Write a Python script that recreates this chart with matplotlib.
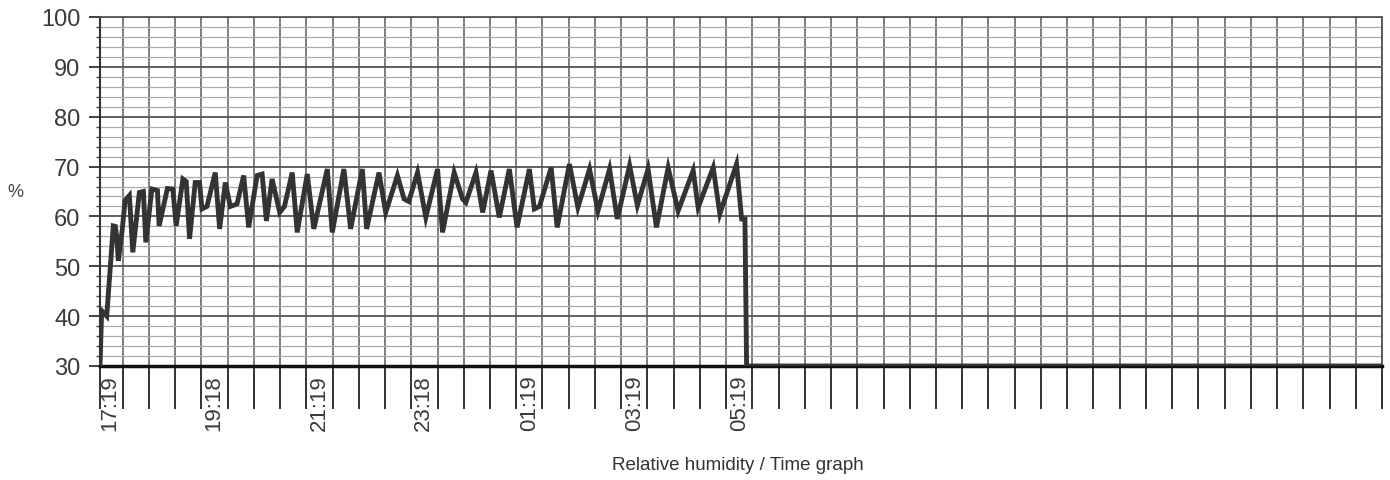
import numpy as np
import matplotlib
matplotlib.use("Agg")
import matplotlib.pyplot as plt
from matplotlib.ticker import FixedLocator, MultipleLocator

plt.rcParams['font.family'] = ['Liberation Sans', 'DejaVu Sans']

# minutes after 17:19
minutes = [-11.0, -9.1, -3.3, 4.2, 6.5, 8.1, 10.0, 14.2, 17.7, 22.6, 26.5, 34.0, 38.6, 41.4,
           48.3, 54.7, 56.6, 66.1, 72.3, 76.1, 83.8, 87.6, 91.4, 97.9, 102.8, 105.6,
           111.3, 120.8, 125.8, 132.3, 138.0, 145.7, 153.3, 159.0, 168.7, 174.4, 179.3,
           185.8, 194.5, 199.9, 208.8, 214.5, 226.0, 233.5, 248.9, 254.6, 267.9, 275.6,
           289.0, 293.9, 308.0, 315.7, 329.1, 336.7, 342.1, 352.1, 361.6, 375.0, 380.7,
           394.0, 403.6, 407.4, 418.9, 426.6, 436.1, 445.6, 457.1, 465.9, 480.0, 485.7,
           491.5, 504.9, 511.8, 525.8, 535.5, 548.8, 558.4, 571.7, 580.5, 594.6, 603.5,
           615.7, 625.3, 638.7, 650.1, 667.3, 673.0, 690.2, 697.8, 716.9, 722.7, 726.5,
           728.4, 1455.0]
humidity = [30, 41.1, 40.0, 58.1, 58.0, 56.0, 51.1, 57.0, 63.2, 64.2, 52.8, 64.8, 65.0, 54.8,
            65.5, 65.2, 58.1, 65.6, 65.5, 58.1, 67.5, 67.0, 55.5, 66.8, 66.8, 61.5,
            62.0, 68.8, 57.5, 66.8, 62.0, 62.5, 68.2, 57.8, 68.2, 68.5, 59.1,
            67.5, 60.8, 62.0, 68.8, 56.8, 68.5, 57.5, 69.5, 56.8, 69.5, 57.5,
            69.5, 57.5, 68.8, 60.8, 68.2, 63.5, 63.0, 68.8, 59.8, 69.5, 56.8,
            68.8, 63.5, 62.8, 68.8, 60.8, 69.2, 59.8, 69.5, 57.8, 69.5, 61.5,
            62.0, 69.8, 57.8, 70.5, 61.8, 69.5, 61.1, 69.5, 59.5, 70.2, 62.2,
            69.5, 57.8, 69.8, 61.1, 69.2, 61.8, 69.8, 60.5, 70.5, 59.5, 59.5,
            30, 30]

label_minutes = [0, 119, 240, 359, 480, 600, 720]
label_texts = ['17:19', '19:18', '21:19', '23:18', '01:19', '03:19', '05:19']

grid_step = 30  # minutes between vertical grid lines
x_left, x_right = -11, 1455

fig = plt.figure(figsize=(13.9, 4.81), dpi=100)
ax = fig.add_axes([100/1390, 1-367/481, 1282/1390, 349/481])

ax.plot(minutes, humidity, color='#333333', lw=3.5, solid_joinstyle='miter', zorder=5)

ax.set_xlim(x_left, x_right)
ax.set_ylim(30, 100)

# vertical grid lines + long ticks under the axis
vlines = [x_left] + list(np.arange(15, x_right + 1, grid_step))
ax.xaxis.set_minor_locator(FixedLocator(vlines))
ax.xaxis.set_major_locator(FixedLocator(label_minutes))
ax.set_xticklabels(label_texts, rotation=90, fontsize=16, color='#3a3a3a')
ax.tick_params(axis='x', which='major', length=0, pad=6)
ax.tick_params(axis='x', which='minor', length=31, width=1.3, color='#222222')
ax.grid(which='minor', axis='x', color='#5a5a5a', lw=1.1)

ax.yaxis.set_major_locator(MultipleLocator(10))
ax.yaxis.set_minor_locator(MultipleLocator(2))
ax.tick_params(axis='y', which='major', length=8, width=1.3, labelsize=17,
               labelcolor='#3a3a3a', color='#333333', pad=6)
ax.tick_params(axis='y', which='minor', length=3, width=1.0, color='#444444')
ax.grid(which='major', axis='y', color='#555555', lw=1.3)
ax.grid(which='minor', axis='y', color='#ababab', lw=0.9)
ax.set_axisbelow(True)

for side in ['top', 'right']:
    ax.spines[side].set_color('#555555')
    ax.spines[side].set_linewidth(1.3)
ax.spines['left'].set_color('#333333')
ax.spines['left'].set_linewidth(1.5)
ax.spines['bottom'].set_color('#111111')
ax.spines['bottom'].set_linewidth(2.5)

ax.set_ylabel('%', rotation=0, fontsize=13, color='#444444', va='center', ha='center')
ax.yaxis.set_label_coords(-0.066, 0.50)

fig.text(738/1390, 1-466/481, 'Relative humidity / Time graph', ha='center', va='center',
         fontsize=13.5, color='#333333')

fig.savefig('out.png', dpi=100)
